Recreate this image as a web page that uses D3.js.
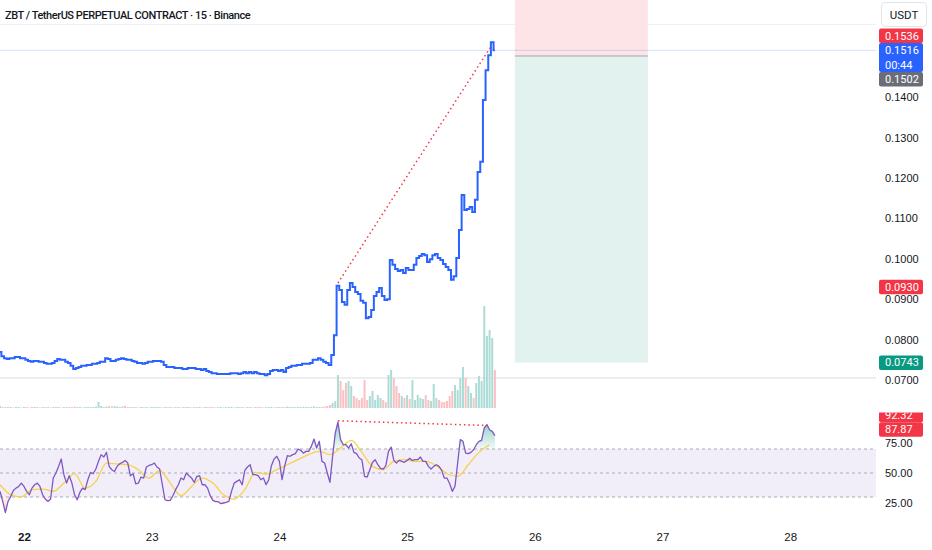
<!DOCTYPE html>
<html>
<head>
<meta charset="utf-8">
<script src="https://cdn.jsdelivr.net/npm/d3@7"></script>
<style>
  body { margin: 0; background: #fff; }
  svg { display: block; font-family: Roboto, "Noto Sans", sans-serif; }
  .axis text { font-size: 11px; fill: #131722; }
  .badge text { font-size: 11px; fill: #fff; }
</style>
</head>
<body>
<svg id="chart" width="932" height="550"></svg>
<script>
// ---- data (15m chart, sampled every 30 min from Oct 21 19:30 UTC) ----
const startTime = Date.UTC(2025, 9, 21, 19, 30);

const closes = [
  0.0769, 0.0759, 0.0754, 0.0752, 0.0754, 0.0754, 0.0757, 0.0757, 0.0754, 0.0754,
  0.0750, 0.0747, 0.0745, 0.0747, 0.0747, 0.0745, 0.0745, 0.0742, 0.0740, 0.0740,
  0.0742, 0.0747, 0.0752, 0.0750, 0.0750, 0.0745, 0.0742, 0.0735, 0.0727, 0.0730,
  0.0732, 0.0735, 0.0735, 0.0737, 0.0737, 0.0740, 0.0740, 0.0742, 0.0745, 0.0745,
  0.0754, 0.0752, 0.0747, 0.0747, 0.0750, 0.0752, 0.0754, 0.0752, 0.0750, 0.0750,
  0.0747, 0.0745, 0.0742, 0.0742, 0.0740, 0.0742, 0.0745, 0.0745, 0.0747, 0.0747,
  0.0747, 0.0745, 0.0737, 0.0732, 0.0732, 0.0732, 0.0730, 0.0730, 0.0730, 0.0727,
  0.0727, 0.0730, 0.0730, 0.0730, 0.0727, 0.0727, 0.0725, 0.0727, 0.0722, 0.0720,
  0.0717, 0.0717, 0.0715, 0.0715, 0.0715, 0.0715, 0.0715, 0.0717, 0.0717, 0.0717,
  0.0715, 0.0717, 0.0720, 0.0717, 0.0720, 0.0717, 0.0720, 0.0717, 0.0715, 0.0715,
  0.0712, 0.0715, 0.0722, 0.0725, 0.0725, 0.0722, 0.0725, 0.0720, 0.0730, 0.0732,
  0.0735, 0.0735, 0.0737, 0.0737, 0.0740, 0.0740, 0.0740, 0.0742, 0.0750, 0.0750,
  0.0754, 0.0750, 0.0745, 0.0742, 0.0737, 0.0762, 0.0811, 0.0933, 0.0923, 0.0893,
  0.0886, 0.0923, 0.0940, 0.0930, 0.0918, 0.0913, 0.0896, 0.0891, 0.0853, 0.0856,
  0.0873, 0.0908, 0.0918, 0.0928, 0.0908, 0.0898, 0.0900, 0.0997, 0.0985, 0.0975,
  0.0970, 0.0972, 0.0965, 0.0977, 0.0972, 0.0972, 0.0985, 0.1002, 0.1007, 0.1012,
  0.1009, 0.0992, 0.0999, 0.1009, 0.1012, 0.1002, 0.0997, 0.0987, 0.0980, 0.0972,
  0.0948, 0.0957, 0.1002, 0.1071, 0.1158, 0.1121, 0.1123, 0.1128, 0.1116, 0.1146,
  0.1215, 0.1240, 0.1393, 0.1467, 0.1504, 0.1536, 0.1516
];

// volume in millions, same 30 min steps
const volumes = [
  0.2, 0.1, 0.1, 0.1, 0.1, 0.05, 0.1, 0.1, 0.05, 0.1,
  0.1, 0.05, 0.1, 0.1, 0.1, 0.05, 0.1, 0.1, 0.1, 0.05,
  0.1, 0.1, 0.1, 0.05, 0.1, 0.1, 0.1, 0.1, 0.15, 0.1,
  0.1, 0.05, 0.1, 0.1, 0.1, 0.1, 0.15, 0.6, 0.2, 0.1,
  0.15, 0.2, 0.15, 0.2, 0.15, 0.1, 0.15, 0.2, 0.1, 0.1,
  0.1, 0.1, 0.05, 0.1, 0.1, 0.1, 0.05, 0.1, 0.1, 0.1,
  0.1, 0.05, 0.1, 0.1, 0.1, 0.05, 0.1, 0.1, 0.05, 0.1,
  0.1, 0.1, 0.05, 0.1, 0.1, 0.1, 0.05, 0.1, 0.1, 0.1,
  0.1, 0.05, 0.1, 0.1, 0.05, 0.1, 0.1, 0.1, 0.05, 0.1,
  0.1, 0.1, 0.05, 0.1, 0.1, 0.05, 0.1, 0.1, 0.1, 0.05,
  0.1, 0.1, 0.1, 0.05, 0.1, 0.1, 0.1, 0.1, 0.15, 0.1,
  0.1, 0.1, 0.1, 0.1, 0.1, 0.1, 0.1, 0.1, 0.15, 0.1,
  0.1, 0.1, 0.15, 0.2, 0.3, 0.5, 0.7, 3.3, 2.7, 1.8,
  2.5, 2.7, 2.2, 1.2, 1.0, 0.8, 1.0, 2.8, 0.8, 1.2,
  1.7, 0.8, 1.3, 1.0, 0.8, 0.6, 3.3, 3.8, 3.0, 2.2,
  1.5, 1.2, 1.0, 1.3, 0.9, 2.8, 0.8, 1.3, 1.0, 0.9,
  1.3, 0.8, 0.7, 2.4, 1.0, 0.8, 0.6, 0.6, 0.7, 1.2,
  1.7, 2.3, 1.8, 3.0, 4.1, 3.0, 2.2, 1.5, 1.0, 2.5,
  3.2, 2.7, 10.2, 7.2, 7.8, 7.0, 3.8
];

// RSI 14, same 30 min steps
const rsi = [
  34.7, 26.3, 17.0, 26.3, 30.5, 35.5, 37.4, 38.8, 41.6, 38.8,
  34.7, 31.9, 37.4, 40.2, 41.6, 38.8, 31.9, 28.3, 26.3, 28.3,
  45.8, 50.0, 55.5, 61.6, 48.6, 41.6, 47.7, 41.6, 31.9, 27.7,
  33.8, 37.4, 36.1, 44.4, 50.5, 49.4, 53.3, 59.7, 65.2, 63.3,
  67.2, 55.5, 52.7, 51.3, 55.5, 57.7, 58.8, 60.5, 58.3, 47.7,
  49.4, 41.0, 41.6, 46.6, 45.8, 55.0, 56.3, 56.9, 58.3, 55.0,
  53.3, 40.2, 27.7, 26.9, 27.2, 31.3, 36.1, 40.2, 45.8, 44.4,
  50.0, 47.7, 45.8, 42.2, 47.2, 47.7, 40.2, 40.2, 37.4, 31.1,
  27.2, 26.1, 26.1, 24.4, 25.0, 25.5, 26.3, 34.7, 41.6, 43.0,
  44.4, 40.2, 52.2, 55.0, 56.9, 48.6, 48.6, 47.8, 44.4, 45.8,
  40.3, 44.4, 56.1, 61.6, 63.9, 59.7, 44.4, 56.0, 64.4, 63.9,
  65.3, 66.1, 70.0, 68.9, 66.6, 68.0, 68.0, 72.2, 78.3, 70.8,
  76.4, 59.7, 58.3, 50.0, 42.2, 63.9, 83.3, 92.5, 77.8, 73.6,
  73.6, 70.8, 74.4, 67.2, 66.1, 62.5, 61.1, 47.2, 46.6, 52.7,
  58.9, 61.1, 56.9, 53.9, 53.3, 56.1, 68.0, 71.6, 60.5, 58.3,
  60.5, 59.7, 58.9, 60.5, 62.2, 60.5, 61.1, 61.1, 63.3, 59.7,
  59.7, 55.5, 53.3, 55.5, 56.9, 55.5, 52.2, 45.8, 45.8, 41.1,
  34.7, 38.9, 58.3, 77.8, 76.4, 66.6, 66.1, 67.2, 69.4, 73.6,
  76.4, 77.2, 87.5, 90.3, 86.1, 84.7, 81.1
];

// RSI-based MA, every 2 hours from the same start
const rsiMa = [
  40.2, 31.9, 30.0, 36.1, 36.6, 34.7, 41.6, 49.4, 37.4, 43.0,
  58.3, 57.5, 56.9, 52.7, 45.8, 52.2, 41.6, 31.1, 38.8, 45.8,
  41.6, 31.9, 28.3, 36.1, 50.5, 49.1, 52.8, 56.9, 61.1, 65.3,
  68.0, 65.3, 70.8, 77.2, 67.2, 55.5, 52.8, 59.7, 61.1, 59.7,
  59.7, 56.1, 49.4, 47.2, 56.9, 67.2, 73.6
];

const dayTicks = [22, 23, 24, 25, 26, 27, 28];
const priceTicks = [0.07, 0.08, 0.09, 0.10, 0.11, 0.12, 0.13, 0.14];
const rsiTicks = [25, 50, 75];

// price-axis badges: high, last, entry, level, target
const priceBadges = [0.1536, 0.1516, 0.1502, 0.0930, 0.0743];
const countdown = "00:44";
const rsiBadges = [92.32, 87.87];

// short position drawing
const posFrom = Date.UTC(2025, 9, 25, 20, 15);
const posTo = Date.UTC(2025, 9, 26, 21, 15);
const posEntry = 0.1502, posStop = 0.1660, posTarget = 0.0743;

// bearish divergence: [time, price, rsi]
const divFrom = [Date.UTC(2025, 9, 24, 11, 0), 0.0940, 93.5];
const divTo = [Date.UTC(2025, 9, 25, 15, 45), 0.1525, 89.5];

const hLevel = 0.0705;

// ---- layout ----
const plotW = 876, splitY = 409;
const halfHour = 30 * 60 * 1000;
const series = (arr, step) => arr.map((v, i) => ({ t: new Date(startTime + i * step * halfHour), v }));

const priceData = series(closes, 1);
const volData = series(volumes, 1).map((d, i) => ({ ...d, up: i === 0 || closes[i] >= closes[i - 1] }));
const rsiData = series(rsi, 1);
const maData = series(rsiMa, 4);

const x = d3.scaleUtc()
  .domain([new Date(Date.UTC(2025, 9, 22)), new Date(Date.UTC(2025, 9, 28))])
  .range([24, 790.2]);
const yP = d3.scaleLinear().domain([0.07, 0.14]).range([380, 97.2]);
const yV = d3.scaleLinear().domain([0, 12]).range([408, 288]);
const yR = d3.scaleLinear().domain([25, 75]).range([503, 443]);

const svg = d3.select("#chart");
const defs = svg.append("defs");

defs.append("clipPath").attr("id", "clipPrice")
  .append("rect").attr("x", 0).attr("y", 0).attr("width", plotW).attr("height", splitY);
defs.append("clipPath").attr("id", "clipRsi")
  .append("rect").attr("x", 0).attr("y", splitY).attr("width", plotW).attr("height", 118);
defs.append("clipPath").attr("id", "clipRsiAxis")
  .append("rect").attr("x", plotW).attr("y", splitY + 3.5).attr("width", 56).attr("height", 137);

function grad(id, color, y1, y2, o1, o2) {
  const g = defs.append("linearGradient").attr("id", id)
    .attr("gradientUnits", "userSpaceOnUse")
    .attr("x1", 0).attr("x2", 0).attr("y1", y1).attr("y2", y2);
  g.append("stop").attr("offset", 0).attr("stop-color", color).attr("stop-opacity", o1);
  g.append("stop").attr("offset", 1).attr("stop-color", color).attr("stop-opacity", o2);
}
grad("obFill", "#089981", yR(100), yR(70), 0.6, 0.05);
grad("osFill", "#f23645", yR(30), yR(0), 0.05, 0.6);

// ---- price pane ----
const pane = svg.append("g").attr("clip-path", "url(#clipPrice)");

pane.append("line")
  .attr("x1", 0).attr("x2", plotW).attr("y1", 24.5).attr("y2", 24.5)
  .attr("stroke", "#eef0f4");

// position tool
pane.append("rect")
  .attr("x", x(posFrom)).attr("width", x(posTo) - x(posFrom))
  .attr("y", yP(posStop)).attr("height", yP(posEntry) - yP(posStop))
  .attr("fill", "#fde5e7");
pane.append("rect")
  .attr("x", x(posFrom)).attr("width", x(posTo) - x(posFrom))
  .attr("y", yP(posEntry)).attr("height", yP(posTarget) - yP(posEntry))
  .attr("fill", "#e1f2ef");
pane.append("line")
  .attr("x1", x(posFrom)).attr("x2", x(posTo))
  .attr("y1", yP(posEntry)).attr("y2", yP(posEntry))
  .attr("stroke", "#a3a3a8");

pane.append("line")
  .attr("x1", 0).attr("x2", plotW).attr("y1", yP(hLevel)).attr("y2", yP(hLevel))
  .attr("stroke", "#dcdee3");

// volume
const barW = 2;
pane.append("g").selectAll("rect").data(volData).join("rect")
  .attr("x", d => x(d.t) - barW / 2)
  .attr("width", barW)
  .attr("y", d => yV(d.v))
  .attr("height", d => yV(0) - yV(d.v))
  .attr("fill", d => d.up ? "#acdcd6" : "#f9c1c3");

// last price line
pane.append("line")
  .attr("x1", 0).attr("x2", plotW)
  .attr("y1", yP(closes[closes.length - 1])).attr("y2", yP(closes[closes.length - 1]))
  .attr("stroke", "#2962ff").attr("stroke-opacity", 0.2);

pane.append("path")
  .datum(priceData)
  .attr("fill", "none")
  .attr("stroke", "#2962ff")
  .attr("stroke-width", 2)
  .attr("d", d3.line().curve(d3.curveStep).x(d => x(d.t)).y(d => yP(d.v)));

pane.append("line")
  .attr("x1", x(divFrom[0])).attr("y1", yP(divFrom[1]))
  .attr("x2", x(divTo[0])).attr("y2", yP(divTo[1]))
  .attr("stroke", "#f23645").attr("stroke-width", 1.5)
  .attr("stroke-dasharray", "1.5,3");

// ---- RSI pane ----
const rp = svg.append("g").attr("clip-path", "url(#clipRsi)");

rp.append("rect")
  .attr("x", 0).attr("width", plotW)
  .attr("y", yR(70)).attr("height", yR(30) - yR(70))
  .attr("fill", "#7e57c2").attr("fill-opacity", 0.1);

rp.selectAll("line.band").data([70, 50, 30]).join("line")
  .attr("class", "band")
  .attr("x1", 0).attr("x2", plotW)
  .attr("y1", d => yR(d)).attr("y2", d => yR(d))
  .attr("stroke", "#a9acb5").attr("stroke-dasharray", "3,3");

rp.append("path").datum(rsiData)
  .attr("fill", "url(#obFill)")
  .attr("d", d3.area().x(d => x(d.t)).y0(yR(70)).y1(d => yR(Math.max(70, d.v))));
rp.append("path").datum(rsiData)
  .attr("fill", "url(#osFill)")
  .attr("d", d3.area().x(d => x(d.t)).y0(yR(30)).y1(d => yR(Math.min(30, d.v))));

rp.append("path").datum(maData)
  .attr("fill", "none")
  .attr("stroke", "#f7d14a")
  .attr("stroke-width", 1.3)
  .attr("d", d3.line().curve(d3.curveMonotoneX).x(d => x(d.t)).y(d => yR(d.v)));

rp.append("path").datum(rsiData)
  .attr("fill", "none")
  .attr("stroke", "#7e57c2")
  .attr("stroke-width", 1.3)
  .attr("stroke-linejoin", "round")
  .attr("d", d3.line().x(d => x(d.t)).y(d => yR(d.v)));

rp.append("line")
  .attr("x1", x(divFrom[0])).attr("y1", yR(divFrom[2]))
  .attr("x2", x(divTo[0])).attr("y2", yR(divTo[2]))
  .attr("stroke", "#f23645").attr("stroke-width", 1.5)
  .attr("stroke-dasharray", "1.5,3");

// ---- axes ----
const priceAxis = svg.append("g").attr("class", "axis")
  .attr("transform", `translate(${plotW},0)`)
  .call(d3.axisRight(yP).tickValues(priceTicks).tickFormat(d3.format(".4f")).tickSize(0).tickPadding(9));
priceAxis.select(".domain").remove();

const rsiAxis = svg.append("g").attr("class", "axis")
  .attr("transform", `translate(${plotW},0)`)
  .call(d3.axisRight(yR).tickValues(rsiTicks).tickFormat(d3.format(".2f")).tickSize(0).tickPadding(9));
rsiAxis.select(".domain").remove();

const timeAxis = svg.append("g").attr("class", "axis")
  .attr("transform", "translate(0,530)")
  .call(d3.axisBottom(x)
    .tickValues(dayTicks.map(d => new Date(Date.UTC(2025, 9, d))))
    .tickFormat(d3.utcFormat("%-d")).tickSize(0).tickPadding(3));
timeAxis.select(".domain").remove();
timeAxis.selectAll(".tick text").style("font-size", "11.5px")
  .filter((d, i) => i === 0).style("font-weight", "bold");

// ---- badges on the right scale ----
const lineH = 14.5;
function placeBadges(items, anchor) {
  items.forEach(d => { d.h = d.lines.length * lineH; d.top = d.y - lineH / 2; });
  const s = items.slice().sort((a, b) => a.y - b.y);
  const k = s.indexOf(items[anchor]);
  for (let i = k - 1; i >= 0; i--) s[i].top = Math.min(s[i].top, s[i + 1].top - s[i].h);
  for (let i = k + 1; i < s.length; i++) s[i].top = Math.max(s[i].top, s[i - 1].top + s[i - 1].h);
  return items;
}

function drawBadges(parent, items) {
  const g = parent.selectAll("g.badge").data(items).join("g").attr("class", "badge");
  g.append("rect")
    .attr("x", plotW + 3).attr("width", 44)
    .attr("y", d => d.top).attr("height", d => d.h)
    .attr("rx", 2)
    .attr("fill", d => d.color);
  g.each(function (d) {
    d3.select(this).selectAll("text").data(d.lines).join("text")
      .attr("x", plotW + 9)
      .attr("y", (l, j) => d.top + lineH * (j + 0.5))
      .attr("dy", "0.35em")
      .text(l => l);
  });
}

const priceColors = ["#f23645", "#2962ff", "#6a6d78", "#f23645", "#089981"];
const pItems = placeBadges(priceBadges.map((v, i) => ({
  y: yP(v),
  color: priceColors[i],
  lines: i === 1 ? [v.toFixed(4), countdown] : [v.toFixed(4)]
})), 1);
drawBadges(svg.append("g"), pItems);

const rItems = placeBadges(rsiBadges.map(v => ({
  y: yR(v) + 2, color: "#f23645", lines: [v.toFixed(2)]
})), 1);
drawBadges(svg.append("g").attr("clip-path", "url(#clipRsiAxis)"), rItems);

// ---- header ----
svg.append("text")
  .attr("x", 5).attr("y", 19)
  .attr("fill", "#131722")
  .style("font-size", "11px")
  .style("font-weight", 500)
  .style("letter-spacing", "-0.45px")
  .text("ZBT / TetherUS PERPETUAL CONTRACT · 15 · Binance");

svg.append("rect")
  .attr("x", 881.5).attr("y", 2.5).attr("width", 45).attr("height", 24)
  .attr("rx", 4).attr("fill", "#fff").attr("stroke", "#e0e3eb");
svg.append("text")
  .attr("x", 904).attr("y", 14.5).attr("dy", "0.35em")
  .attr("text-anchor", "middle")
  .attr("fill", "#131722")
  .style("font-size", "11.5px")
  .text("USDT");
</script>
</body>
</html>
